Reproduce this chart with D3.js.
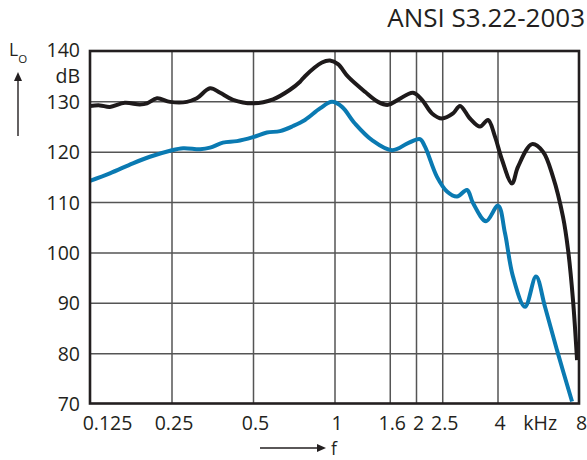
<!DOCTYPE html>
<html>
<head>
<meta charset="utf-8">
<script src="https://cdn.jsdelivr.net/npm/d3@7"></script>
<style>
  body { margin: 0; background: #fff; }
  svg { display: block; }
  text { font-family: "Open Sans", "Noto Sans", sans-serif; fill: #231f20; }
</style>
</head>
<body>
<svg id="chart"></svg>
<script>
// DATA
const yTicks = [70, 80, 90, 100, 110, 120, 130, 140];
const xTicks = [0.125, 0.25, 0.5, 1, 1.6, 2, 2.5, 4, 8];
const xGrid = [0.25, 0.5, 1, 1.6, 2, 2.5, 4];
const title = "ANSI S3.22-2003";

// black curve (kHz, dB)
const blackFreq = [0.125, 0.136, 0.148, 0.168, 0.191, 0.203, 0.221, 0.247, 0.285, 0.31, 0.347, 0.378,
  0.422, 0.5, 0.593, 0.685, 0.746, 0.778, 0.899, 0.962, 1.03, 1.122, 1.296, 1.448, 1.576, 1.716,
  1.95, 2.105, 2.292, 2.495, 2.74, 2.908, 3.165, 3.447, 3.69, 3.916, 4.156, 4.525, 4.761, 5.365,
  5.89, 6.413, 6.98, 7.29, 7.6, 7.87];
const blackLevel = [129.1, 129.2, 128.9, 129.7, 129.4, 129.6, 130.6, 129.9, 129.9, 130.6, 132.6, 131.7,
  130.3, 129.6, 130.4, 132.3, 133.9, 135.0, 137.7, 138.1, 137.4, 134.9, 131.9, 129.9, 129.3, 130.3,
  131.7, 130.3, 127.6, 126.6, 127.6, 129.1, 126.6, 125.0, 126.3, 123.0, 118.4, 113.7, 117.0, 121.5,
  120.0, 115.0, 107.1, 100.5, 90.6, 78.6];

// blue curve (kHz, dB)
const blueFreq = [0.125, 0.148, 0.18, 0.208, 0.247, 0.276, 0.319, 0.347, 0.387, 0.436, 0.5, 0.563,
  0.629, 0.703, 0.778, 0.884, 0.979, 1.066, 1.19, 1.376, 1.631, 1.869, 2.069, 2.159, 2.391, 2.603,
  2.835, 3.086, 3.248, 3.628, 4.018, 4.264, 4.564, 5.054, 5.55, 5.99, 6.635, 7.54];
const blueLevel = [114.2, 115.7, 117.7, 119.0, 120.2, 120.7, 120.5, 120.8, 121.8, 122.1, 122.9, 123.8,
  124.1, 125.1, 126.3, 128.6, 129.9, 128.9, 125.6, 122.3, 120.3, 121.7, 122.5, 121.0, 115.0, 112.1,
  111.1, 112.4, 109.8, 106.2, 109.3, 103.8, 95.2, 89.2, 95.2, 89.2, 80.6, 70.4];

const width = 587;
const height = 460;
const margin = { top: 51, right: 8, bottom: 56.5, left: 90 };
const innerW = width - margin.left - margin.right;
const innerH = height - margin.top - margin.bottom;

const svg = d3.select("#chart").attr("width", width).attr("height", height);

const x = d3.scaleLog().base(2).domain([0.125, 8]).range([margin.left, margin.left + innerW]);
const y = d3.scaleLinear().domain([70, 140]).range([margin.top + innerH, margin.top]);

// GRID
svg.append("g")
  .attr("transform", `translate(0, ${margin.top + innerH})`)
  .call(d3.axisBottom(x).tickValues(xGrid).tickSize(-innerH).tickFormat(""))
  .call((g) => g.select(".domain").remove())
  .call((g) => g.selectAll("line").attr("stroke", "#555").attr("stroke-width", 1.5));

svg.append("g")
  .attr("transform", `translate(${margin.left}, 0)`)
  .call(d3.axisLeft(y).tickValues(yTicks.slice(1, -1)).tickSize(-innerW).tickFormat(""))
  .call((g) => g.select(".domain").remove())
  .call((g) => g.selectAll("line").attr("stroke", "#555").attr("stroke-width", 1.5));

// CURVES
svg.append("clipPath").attr("id", "clip")
  .append("rect")
  .attr("x", margin.left).attr("y", margin.top)
  .attr("width", innerW).attr("height", innerH);

const line = d3.line()
  .x((d) => x(d[0]))
  .y((d) => y(d[1]))
  .curve(d3.curveCatmullRom.alpha(0.5));

const curves = [
  { f: blueFreq, l: blueLevel, color: "#0a7ab2" },
  { f: blackFreq, l: blackLevel, color: "#1e1a1b" },
];

svg.append("g")
  .attr("clip-path", "url(#clip)")
  .selectAll("path")
  .data(curves)
  .enter()
  .append("path")
  .attr("fill", "none")
  .attr("stroke", (d) => d.color)
  .attr("stroke-width", 4)
  .attr("stroke-linejoin", "round")
  .attr("d", (d) => line(d.f.map((f, i) => [f, d.l[i]])));

// FRAME
svg.append("rect")
  .attr("x", margin.left).attr("y", margin.top)
  .attr("width", innerW).attr("height", innerH)
  .attr("fill", "none")
  .attr("stroke", "#231f20")
  .attr("stroke-width", 2.6);

// AXIS LABELS
const yAxis = svg.append("g")
  .attr("transform", `translate(${margin.left}, 0)`)
  .call(d3.axisLeft(y).tickValues(yTicks).tickSize(0).tickPadding(10))
  .call((g) => g.select(".domain").remove());
yAxis.selectAll("text")
  .attr("font-size", 19.5)
  .attr("font-family", null)
  .attr("dy", (d) => (d === 140 ? "0.26em" : "0.36em"));

const xAxis = svg.append("g")
  .attr("transform", `translate(0, ${margin.top + innerH})`)
  .call(d3.axisBottom(x).tickValues(xTicks).tickSize(0).tickPadding(13).tickFormat((d) => String(d)))
  .call((g) => g.select(".domain").remove());
xAxis.selectAll("text")
  .attr("font-size", 19.5)
  .attr("font-family", null)
  .attr("x", (d) => (d === 0.125 ? 17 : 2));

xAxis.append("text")
  .attr("x", x(Math.sqrt(32)) + 2)
  .attr("y", 13)
  .attr("dy", "0.71em")
  .attr("text-anchor", "middle")
  .attr("font-size", 19.5)
  .text("kHz");

svg.append("text")
  .attr("x", margin.left - 10)
  .attr("y", 83)
  .attr("text-anchor", "end")
  .attr("font-size", 19.5)
  .text("dB");

// L_O with arrow
const lo = svg.append("text").attr("x", 9).attr("y", 56).attr("font-size", 17.5);
lo.append("tspan").text("L");
lo.append("tspan").attr("font-size", 11.5).attr("dy", 7).text("O");

svg.append("line")
  .attr("x1", 18).attr("x2", 18).attr("y1", 136).attr("y2", 80)
  .attr("stroke", "#231f20").attr("stroke-width", 1.4);
svg.append("path")
  .attr("d", "M18,72 L14,81 L22,81 Z")
  .attr("fill", "#231f20");

// f with arrow
svg.append("line")
  .attr("x1", 260).attr("x2", 318).attr("y1", 448).attr("y2", 448)
  .attr("stroke", "#231f20").attr("stroke-width", 1.4);
svg.append("path")
  .attr("d", "M326,448 L317,444 L317,452 Z")
  .attr("fill", "#231f20");
svg.append("text")
  .attr("x", 331).attr("y", 455)
  .attr("font-size", 17.5)
  .attr("font-family", "'Liberation Sans', sans-serif")
  .text("f");

// TITLE
svg.append("text")
  .attr("x", 585).attr("y", 27)
  .attr("text-anchor", "end")
  .attr("font-size", 26)
  .text(title);
</script>
</body>
</html>
